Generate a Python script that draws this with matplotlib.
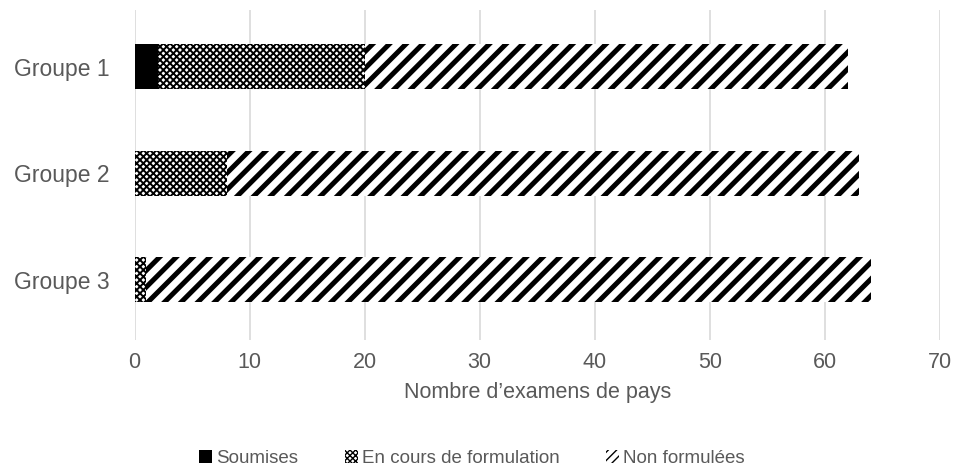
import numpy as np
import matplotlib.pyplot as plt
from matplotlib.patches import Patch

plt.rcParams['font.family'] = ['Liberation Sans', 'DejaVu Sans']

groups = ['Groupe 1', 'Groupe 2', 'Groupe 3']
soumises = [2, 0, 0]
en_cours = [18, 8, 1]
non_formulees = [42, 55, 63]

grey = '#595959'

fig = plt.figure(figsize=(9.55, 4.7), dpi=100)
ax = fig.add_axes([0.141, 0.277, 0.843, 0.702])

y = np.arange(len(groups))[::-1]
h = 0.42

left = np.zeros(len(groups))
ax.barh(y, soumises, left=left, height=h, color='black', linewidth=0)
left += soumises
with plt.rc_context({'hatch.linewidth': 1.4}):
    ax.barh(y, en_cours, left=left, height=h, color='white', edgecolor='black',
            hatch='xxxxx', linewidth=0)
left += en_cours
with plt.rc_context({'hatch.linewidth': 3.6}):
    ax.barh(y, non_formulees, left=left, height=h, color='white', edgecolor='black',
            hatch='//', linewidth=0)

ax.set_xlim(0, 70)
ax.set_ylim(-0.563, 2.535)
ax.set_xticks(range(0, 71, 10))
ax.set_yticks(y)
ax.set_yticklabels(groups)
ax.xaxis.grid(True, color='#d9d9d9', linewidth=1.2)
ax.set_axisbelow(True)
for s in ax.spines.values():
    s.set_visible(False)
ax.tick_params(length=0, labelsize=15.5, colors=grey)
ax.tick_params(axis='y', labelsize=16.5, pad=18)
ax.tick_params(axis='x', pad=9)
ax.set_xlabel("Nombre d\u2019examens de pays", fontsize=15.5, color=grey, labelpad=6)

with plt.rc_context({'hatch.linewidth': 1.2}):
    handles = [Patch(facecolor='black', linewidth=0),
               Patch(facecolor='white', edgecolor='black', hatch='xxxxxx', linewidth=0),
               Patch(facecolor='white', edgecolor='black', hatch='////', linewidth=0)]
fig.legend(handles, ['Soumises', 'En cours de formulation', 'Non formulées'],
           loc='center', bbox_to_anchor=(0.494, 0.025), ncol=3, frameon=False,
           fontsize=13.5, handlelength=0.7, handleheight=0.7, handletextpad=0.2,
           columnspacing=2.5, labelcolor=grey)

fig.savefig('out.png', dpi=100)
